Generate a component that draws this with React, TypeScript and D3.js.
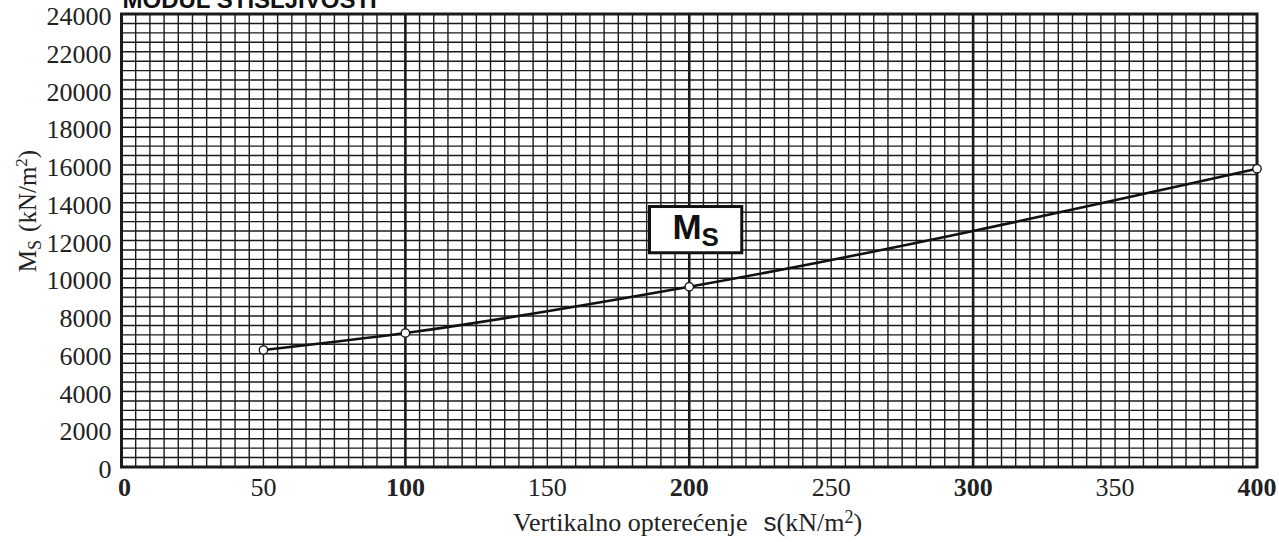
import React, { useRef, useEffect } from 'react'
import * as d3 from 'd3'

// curve points
const loads = [50, 100, 200, 400]
const modulus = [6200, 7100, 9550, 15800]
const xTicks = [0, 50, 100, 150, 200, 250, 300, 350, 400]
const boldXTicks = [0, 100, 200, 300, 400]
const yTicks = [0, 2000, 4000, 6000, 8000, 10000, 12000, 14000, 16000, 18000, 20000, 22000, 24000]
const majorX = [100, 200, 300]
// label box corners in data units
const boxX = [186, 218.5]
const boxY = [11350, 13800]

export default function App() {
  const svgRef = useRef<SVGSVGElement>(null)
  const width = 1279
  const height = 542

  useEffect(() => {
    document.body.style.margin = '0'
    if (!svgRef.current) return
    const svg = d3.select(svgRef.current)
    svg.selectAll('*').remove()

    const m = { t: 14, r: 22, b: 75, l: 121.5 }
    const x = d3.scaleLinear().domain([0, 400]).range([m.l, width - m.r])
    const y = d3.scaleLinear().domain([0, 24000]).range([height - m.b, m.t])
    const serif = '"Liberation Serif", "Times New Roman", serif'
    const sans = '"Liberation Sans", Arial, sans-serif'

    svg.append('rect').attr('width', width).attr('height', height).attr('fill', '#fff')

    // title, cut off at the top
    svg.append('text').attr('x', x(0) + 1).attr('y', 8)
      .attr('font-family', sans).attr('font-weight', 'bold').attr('font-size', 24)
      .attr('fill', '#111').text('MODUL STIŠLJIVOSTI')

    const grid = svg.append('g')
    grid.selectAll('line.v')
      .data(d3.range(0, 401, 5))
      .enter().append('line')
      .attr('x1', d => x(d)).attr('x2', d => x(d))
      .attr('y1', y(0)).attr('y2', y(24000))
      .attr('stroke', '#1a1a1a')
      .attr('stroke-width', d => (majorX.includes(d) ? 2.6 : 1.4))

    grid.selectAll('line.h')
      .data(d3.range(0, 24001, 500))
      .enter().append('line')
      .attr('y1', d => y(d)).attr('y2', d => y(d))
      .attr('x1', x(0)).attr('x2', x(400))
      .attr('stroke', '#1a1a1a').attr('stroke-width', 1.4)

    svg.append('rect')
      .attr('x', x(0)).attr('y', y(24000))
      .attr('width', x(400) - x(0)).attr('height', y(0) - y(24000))
      .attr('fill', 'none').attr('stroke', '#1a1a1a').attr('stroke-width', 3)

    // y ticks
    svg.append('g').selectAll('text')
      .data(yTicks).enter().append('text')
      .attr('x', x(0) - 10).attr('y', d => y(d) + 11)
      .attr('text-anchor', 'end')
      .attr('font-family', serif).attr('font-size', 26).attr('fill', '#222')
      .text(d => d)

    // x ticks
    svg.append('g').selectAll('text')
      .data(xTicks).enter().append('text')
      .attr('x', d => x(d) + (d === 0 ? 3 : 0)).attr('y', y(0) + 29)
      .attr('text-anchor', 'middle')
      .attr('font-family', serif).attr('font-size', 26)
      .attr('font-weight', d => (boldXTicks.includes(d) ? 'bold' : 'normal'))
      .attr('fill', '#222')
      .text(d => d)

    // axis titles
    const xl = svg.append('text').attr('x', 513).attr('y', 531)
      .attr('font-family', serif).attr('font-size', 26).attr('fill', '#222')
    xl.append('tspan').text('Vertikalno opterećenje')
    xl.append('tspan').attr('dx', 16).attr('font-family', sans).attr('font-size', 26).text('s')
    xl.append('tspan').text('(kN/m')
    xl.append('tspan').attr('dy', -8).attr('font-size', 18).text('2')
    xl.append('tspan').attr('dy', 8).text(')')

    const yl = svg.append('text')
      .attr('transform', `translate(36,211) rotate(-90)`)
      .attr('text-anchor', 'middle')
      .attr('font-family', serif).attr('font-size', 25).attr('fill', '#222')
    yl.append('tspan').text('M')
    yl.append('tspan').attr('dy', 5).attr('font-size', 18).text('S')
    yl.append('tspan').attr('dy', -5).attr('dx', 8).text('(kN/m')
    yl.append('tspan').attr('dy', -9).attr('font-size', 17).text('2')
    yl.append('tspan').attr('dy', 9).text(')')

    // curve
    const pts = loads.map((l, i) => [l, modulus[i]] as [number, number])
    const line = d3.line<[number, number]>()
      .x(d => x(d[0])).y(d => y(d[1]))
      .curve(d3.curveMonotoneX)
    svg.append('path').datum(pts)
      .attr('d', line)
      .attr('fill', 'none').attr('stroke', '#111').attr('stroke-width', 2.6)

    svg.append('g').selectAll('circle')
      .data(pts).enter().append('circle')
      .attr('cx', d => x(d[0])).attr('cy', d => y(d[1])).attr('r', 4.2)
      .attr('fill', '#fff').attr('stroke', '#111').attr('stroke-width', 1.3)

    // label box
    svg.append('rect')
      .attr('x', x(boxX[0])).attr('y', y(boxY[1]))
      .attr('width', x(boxX[1]) - x(boxX[0])).attr('height', y(boxY[0]) - y(boxY[1]))
      .attr('fill', '#fff').attr('stroke', '#111').attr('stroke-width', 3)
    const bl = svg.append('text')
      .attr('x', (x(boxX[0]) + x(boxX[1])) / 2).attr('y', y(boxY[0]) - 14)
      .attr('text-anchor', 'middle')
      .attr('font-family', sans).attr('font-weight', 'bold').attr('font-size', 35).attr('fill', '#111')
    bl.append('tspan').text('M')
    bl.append('tspan').attr('dy', 7).attr('font-size', 26).text('S')
  }, [])

  return (
    <div>
      <svg ref={svgRef} width={width} height={height} style={{ display: 'block' }} />
    </div>
  )
}
